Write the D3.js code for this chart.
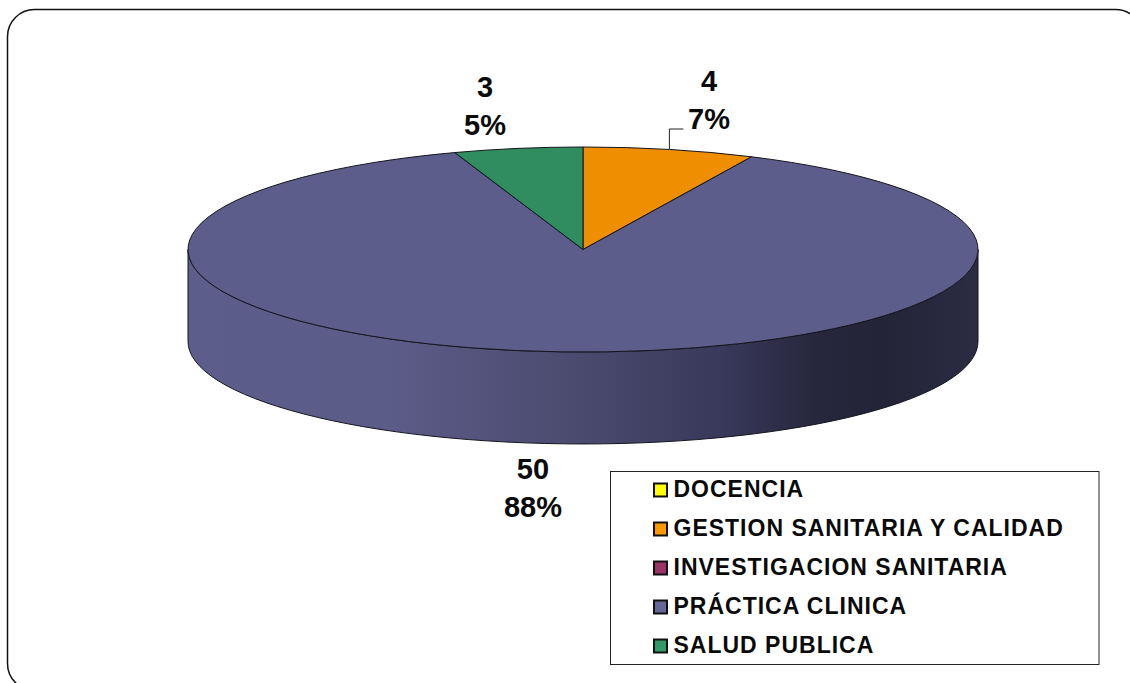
<!DOCTYPE html>
<html>
<head>
<meta charset="utf-8">
<script src="https://cdn.jsdelivr.net/npm/d3@7"></script>
<style>
  body { margin: 0; background: #fff; overflow: hidden; }
  text { font-family: "Liberation Sans", Arial, sans-serif; font-weight: bold; fill: #0a0a0a; }
</style>
</head>
<body>
<svg id="chart" width="1130" height="683"></svg>
<script>
'use strict';

var categories = ["DOCENCIA", "GESTION SANITARIA Y CALIDAD", "INVESTIGACION SANITARIA", "PRÁCTICA CLINICA", "SALUD PUBLICA"];
var counts = [0, 4, 0, 50, 3];
var percents = ["0%", "7%", "0%", "88%", "5%"];
var sliceColors = ["#f2f200", "#ee8e00", "#913060", "#5d5d8b", "#2f8d5f"];
var swatchColors = ["#ffff00", "#ff9900", "#993366", "#666699", "#339966"];

// label anchor (centre x, baseline of the first line) per category
var labelPos = { 1: [709, 91], 3: [533, 479], 4: [485, 97] };

var cx = 583, cy = 249.5, rx = 395, ry = 102.5, depth = 92;

var svg = d3.select("#chart");

svg.append("rect")
  .attr("x", 7.5).attr("y", 9.5)
  .attr("width", 1135).attr("height", 681)
  .attr("rx", 27).attr("ry", 27)
  .attr("fill", "#fff").attr("stroke", "#111").attr("stroke-width", 1.5);

var defs = svg.append("defs");
var wallGrad = defs.append("linearGradient").attr("id", "wall")
  .attr("gradientUnits", "userSpaceOnUse")
  .attr("x1", cx - rx).attr("x2", cx + rx).attr("y1", 0).attr("y2", 0);
wallGrad.selectAll("stop")
  .data([[0, "#5d5d8b"], [0.25, "#5c5c89"], [0.5, "#4a4a6e"], [0.68, "#38385a"], [0.8, "#26263c"], [0.88, "#242438"], [1, "#2b2b42"]])
  .join("stop")
  .attr("offset", function(d) { return d[0]; })
  .attr("stop-color", function(d) { return d[1]; });

// side wall, front half of the disc
svg.append("path")
  .attr("d", `M${cx - rx},${cy} A${rx},${ry} 0 0 0 ${cx + rx},${cy} V${cy + depth} A${rx},${ry} 0 0 1 ${cx - rx},${cy + depth} Z`)
  .attr("fill", "url(#wall)")
  .attr("stroke", "#15151f").attr("stroke-width", 1);

var pie = d3.pie().sort(null).value(function(d) { return d.count; });
var pieData = pie(categories.map(function(name, i) {
  return { name: name, count: counts[i], index: i };
}));
var arc = d3.arc().innerRadius(0).outerRadius(rx);

var disc = svg.append("g")
  .attr("transform", `translate(${cx},${cy}) scale(1,${ry / rx})`);

disc.selectAll("path")
  .data(pieData.filter(function(d) { return d.data.count > 0; }))
  .join("path")
  .attr("d", arc)
  .attr("fill", function(d) { return sliceColors[d.data.index]; })
  .attr("stroke", "#15151f").attr("stroke-width", 1)
  .attr("vector-effect", "non-scaling-stroke");

// data labels: value and percent on two lines
pieData.filter(function(d) { return d.data.count > 0; }).forEach(function(d) {
  var p = labelPos[d.data.index];
  var g = svg.append("g").attr("text-anchor", "middle").attr("font-size", 29);
  g.append("text").attr("x", p[0]).attr("y", p[1]).text(d.data.count);
  g.append("text").attr("x", p[0]).attr("y", p[1] + 37.5).text(percents[d.data.index]);
});

// leader line for the orange slice
var orange = pieData[1];
var mid = (orange.startAngle + orange.endAngle) / 2;
var lx = cx + rx * Math.sin(mid), ly = cy - ry * Math.cos(mid);
svg.append("path")
  .attr("d", d3.line()([[lx, ly], [lx, 129], [lx + 14, 129]]))
  .attr("fill", "none").attr("stroke", "#222").attr("stroke-width", 1);

// legend
var legend = svg.append("g");
legend.append("rect")
  .attr("x", 610.5).attr("y", 471.5)
  .attr("width", 488.5).attr("height", 193)
  .attr("fill", "#fff").attr("stroke", "#222").attr("stroke-width", 1);

var rowY = d3.scalePoint().domain(categories).range([490, 646]);

var rows = legend.selectAll("g.row").data(categories).join("g")
  .attr("class", "row")
  .attr("transform", function(d) { return `translate(0,${rowY(d)})`; });

rows.append("rect")
  .attr("x", 654).attr("y", -6.5)
  .attr("width", 13).attr("height", 13)
  .attr("fill", function(d, i) { return swatchColors[i]; })
  .attr("stroke", "#111").attr("stroke-width", 2);

rows.append("text")
  .attr("x", 673.5).attr("y", 6.5)
  .attr("font-size", 23)
  .attr("letter-spacing", 1)
  .text(function(d) { return d; });
</script>
</body>
</html>
